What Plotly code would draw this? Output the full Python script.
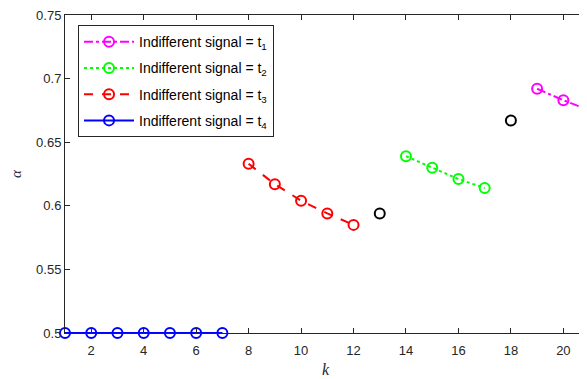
import plotly.graph_objects as go

k_t1 = [19, 20, 21]
a_t1 = [0.692, 0.683, 0.675]
k_t2 = [14, 15, 16, 17]
a_t2 = [0.639, 0.630, 0.621, 0.614]
k_t3 = [8, 9, 10, 11, 12]
a_t3 = [0.633, 0.617, 0.604, 0.594, 0.585]
k_t4 = [1, 2, 3, 4, 5, 6, 7]
a_t4 = [0.5, 0.5, 0.5, 0.5, 0.5, 0.5, 0.5]
k_black = [13, 18]
a_black = [0.594, 0.667]

names = ["Indifferent signal = t<sub>1</sub>", "Indifferent signal = t<sub>2</sub>",
         "Indifferent signal = t<sub>3</sub>", "Indifferent signal = t<sub>4</sub>"]
colors = ["#FF00FF", "#00FF00", "#FF0000", "#0000FF"]
dashes = ["dashdot", "dot", "dash", "solid"]
xs = [k_t1, k_t2, k_t3, k_t4]
ys = [a_t1, a_t2, a_t3, a_t4]

fig = go.Figure()
for i in range(4):
    fig.add_trace(go.Scatter(
        x=xs[i], y=ys[i], name=names[i], mode="lines+markers",
        line=dict(color=colors[i], dash=dashes[i], width=2),
        marker=dict(symbol="circle-open", size=10, color=colors[i], line=dict(width=2)),
        cliponaxis=False, legendgroup=str(i)))
fig.add_trace(go.Scatter(
    x=k_black, y=a_black, mode="markers", showlegend=False,
    marker=dict(symbol="circle-open", size=10, color="black", line=dict(width=2)),
    cliponaxis=False))

axcol = "#262626"
fig.update_layout(
    width=579, height=371,
    margin=dict(l=57, r=0, t=4, b=46),
    plot_bgcolor="white", paper_bgcolor="white",
    font=dict(family="Liberation Sans, Arial", size=13, color=axcol),
    legend=dict(x=0.025, y=0.968, xanchor="left", yanchor="top",
                bgcolor="white", bordercolor=axcol, borderwidth=1,
                font=dict(size=14, color="black"), tracegroupgap=5,
                itemwidth=50),
    xaxis=dict(range=[1, 20.863], tickvals=[2, 4, 6, 8, 10, 12, 14, 16, 18, 20],
               ticks="inside", ticklen=5, tickcolor=axcol, showgrid=False,
               zeroline=False, showline=True, linecolor=axcol, linewidth=1, mirror="ticks",
               tickfont=dict(size=13, color=axcol), ticklabelstandoff=5,
               ticklabeloverflow="allow",
               title=dict(text="<i>k</i>", font=dict(family="Liberation Serif", size=16, color=axcol), standoff=7)),
    yaxis=dict(range=[0.5, 0.75], tickvals=[0.5, 0.55, 0.6, 0.65, 0.7, 0.75],
               ticktext=["0.5", "0.55", "0.6", "0.65", "0.7", "0.75"],
               ticks="inside", ticklen=5, tickcolor=axcol, showgrid=False,
               zeroline=False, showline=True, linecolor=axcol, linewidth=1, mirror="ticks",
               tickfont=dict(size=13, color=axcol), ticklabeloverflow="allow",
               title=dict(text="<i>α</i>", font=dict(family="Liberation Serif", size=15, color=axcol), standoff=13)),
)
fig.write_html("out.html")
